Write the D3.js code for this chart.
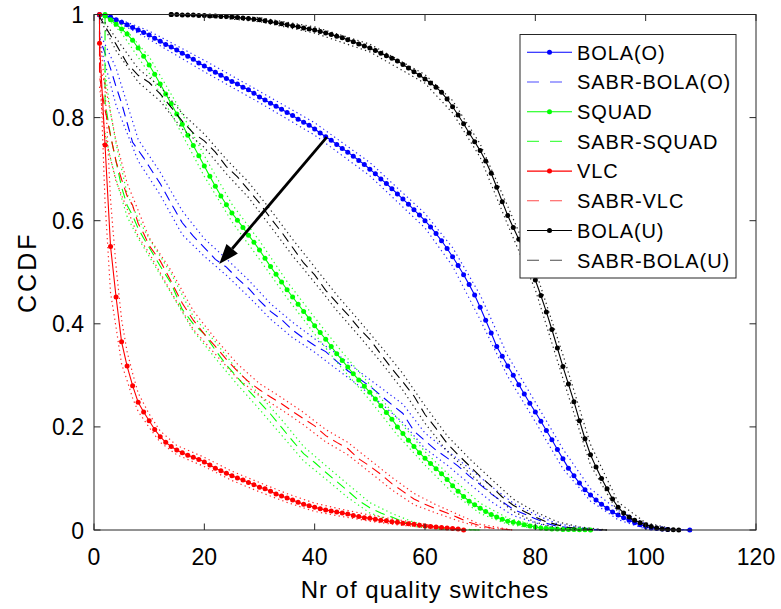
<!DOCTYPE html>
<html><head><meta charset="utf-8">
<script src="https://cdn.jsdelivr.net/npm/d3@7"></script>
<style>
body{margin:0;background:#fff}
svg{display:block}
text{font-family:"Liberation Sans",Arial,Helvetica,sans-serif;fill:#000}
</style>
</head><body>
<svg id="chart" width="781" height="609"></svg>
<script>
// ---------------- data ----------------
const xTicks = [0, 20, 40, 60, 80, 100, 120];
const yTicks = [0, 0.2, 0.4, 0.6, 0.8, 1];
const xLabel = "Nr of quality switches";
const yLabel = "CCDF";
const seriesNames = ["BOLA(O)", "SABR-BOLA(O)", "SQUAD", "SABR-SQUAD", "VLC", "SABR-VLC", "BOLA(U)", "SABR-BOLA(U)"];

// BOLA(O) (empirical CCDF: first x repeated, starting at 1)
const bolaO_x = [1].concat(d3.range(1, 105), [108]);
const bolaO_y = [1, 0.999,0.998,0.995,0.990,0.985,0.980,0.975,0.970,0.965,0.960,
0.954,0.948,0.942,0.937,0.931,0.925,0.919,0.913,0.906,0.900,
0.894,0.888,0.882,0.876,0.870,0.865,0.859,0.854,0.847,0.840,
0.834,0.828,0.822,0.816,0.810,0.804,0.797,0.791,0.785,0.778,
0.770,0.763,0.756,0.748,0.740,0.733,0.725,0.717,0.709,0.700,
0.691,0.681,0.672,0.662,0.652,0.642,0.632,0.621,0.611,0.600,
0.588,0.575,0.561,0.546,0.530,0.513,0.495,0.476,0.456,0.432,
0.407,0.382,0.356,0.337,0.318,0.300,0.282,0.264,0.246,0.229,
0.211,0.193,0.175,0.156,0.138,0.120,0.105,0.091,0.078,0.068,
0.058,0.050,0.042,0.035,0.029,0.024,0.019,0.014,0.010,0.007,
0.004,0.003,0.002,0.001, 0];
const bolaO_ciX = [1,5,10,20,30,40,50,60,65,70,75,80,85,90,95,100,104,108];
const bolaO_ciW = [0,0.004,0.008,0.011,0.011,0.012,0.013,0.014,0.018,0.024,0.020,0.019,0.019,0.012,0.009,0.005,0.002,0];

// SABR-BOLA(O)
const sabrBolaO_x = [1,1,2,3,4,5,6,7,8,9,10,12,14,16,18,20,22,24,26,28,30,32,34,36,38,40,42,44,46,48,50,52,54,56,58,60,62,64,66,68,70,72,74,76,78,80,82,84,86,88,90,92];
const sabrBolaO_y = [1,0.955,0.925,0.895,0.860,0.828,0.790,0.752,0.737,0.722,0.705,0.672,0.633,0.596,0.570,0.548,0.525,0.510,0.488,0.469,0.445,0.424,0.408,0.388,0.372,0.358,0.346,0.327,0.309,0.294,0.279,0.261,0.243,0.226,0.192,0.173,0.155,0.140,0.124,0.105,0.088,0.070,0.055,0.040,0.031,0.022,0.013,0.007,0.005,0.003,0.001,0];
const sabrBolaO_ciX = [1,4,8,12,16,20,24,28,32,36,40,44,48,52,56,60,64,68,72,76,80,84,88,92];
const sabrBolaO_ciW = [0.010,0.036,0.021,0.022,0.023,0.017,0.016,0.016,0.015,0.015,0.013,0.015,0.014,0.015,0.018,0.015,0.014,0.015,0.015,0.012,0.008,0.005,0.002,0];

// SQUAD (starting at 2)
const squad_x = [2].concat(d3.range(2, 91));
const squad_y = [1, 0.997,0.990,0.981,0.972,0.962,0.950,0.935,0.919,0.902,
0.884,0.865,0.846,0.827,0.807,0.787,0.766,0.746,0.726,0.706,
0.686,0.667,0.648,0.631,0.615,0.601,0.587,0.572,0.558,0.543,
0.527,0.511,0.496,0.481,0.466,0.452,0.438,0.424,0.410,0.396,
0.383,0.370,0.356,0.342,0.329,0.316,0.303,0.291,0.279,0.267,
0.254,0.241,0.228,0.215,0.200,0.187,0.174,0.162,0.150,0.139,
0.129,0.119,0.109,0.098,0.086,0.075,0.065,0.056,0.049,0.042,
0.036,0.030,0.025,0.021,0.017,0.015,0.013,0.010,0.008,0.006,
0.004,0.003,0.002,0.002,0.001,0.001,0.001,0.0005,0.0003,0];
const squad_ciX = [2,5,10,15,20,25,30,35,40,45,50,55,60,65,70,75,80,85,90];
const squad_ciW = [0,0.008,0.016,0.020,0.020,0.017,0.018,0.016,0.016,0.016,0.015,0.016,0.013,0.014,0.010,0.006,0.003,0.001,0];

// SABR-SQUAD
const sabrSquad_x = [2,2,3,4,5,6,7,8,9,10,12,14,16,18,20,22,24,26,28,30,32,34,36,38,40,42,44,46,48,50,52,54,56,58,60,62,64,66,68,70];
const sabrSquad_y = [1,0.830,0.765,0.715,0.665,0.630,0.610,0.585,0.566,0.548,0.512,0.478,0.428,0.400,0.380,0.349,0.320,0.296,0.271,0.248,0.225,0.199,0.173,0.148,0.131,0.112,0.094,0.076,0.057,0.043,0.033,0.025,0.016,0.011,0.007,0.004,0.002,0.001,0.0005,0];
const sabrSquad_ciX = [2,3,4,6,8,10,14,18,22,26,30,34,38,42,46,50,54,58,62,66,70];
const sabrSquad_ciW = [0.060,0.045,0.035,0.022,0.019,0.017,0.019,0.014,0.016,0.014,0.014,0.015,0.014,0.013,0.013,0.010,0.007,0.004,0.002,0.001,0];

// VLC (starting at 1)
const vlc_x = [1].concat(d3.range(1, 68));
const vlc_y = [1, 0.944,0.747,0.550,0.452,0.365,0.318,0.280,0.248,0.229,0.212,
0.195,0.181,0.170,0.162,0.155,0.150,0.145,0.141,0.137,0.132,
0.126,0.120,0.115,0.110,0.105,0.101,0.097,0.092,0.088,0.083,
0.080,0.075,0.070,0.066,0.062,0.058,0.054,0.050,0.047,0.044,
0.041,0.039,0.037,0.035,0.033,0.031,0.028,0.026,0.024,0.023,
0.021,0.019,0.018,0.016,0.015,0.013,0.012,0.011,0.009,0.008,
0.007,0.006,0.005,0.004,0.003,0.002,0];
const vlc_ciX = [1,2,3,4,5,6,7,8,10,12,15,20,25,30,35,40,45,50,55,60,67];
const vlc_ciW = [0.020,0.110,0.090,0.059,0.043,0.028,0.024,0.018,0.013,0.011,0.009,0.009,0.009,0.009,0.0085,0.008,0.007,0.006,0.005,0.003,0];

// SABR-VLC
const sabrVlc_x = [1,1,2,3,4,5,6,7,8,9,10,12,14,16,18,20,22,24,26,28,30,32,34,36,38,40,42,44,46,48,50,52,54,56,58,60,62,64,66,68,70,72,74,76];
const sabrVlc_y = [1,0.880,0.815,0.765,0.715,0.680,0.648,0.630,0.595,0.575,0.552,0.522,0.482,0.440,0.407,0.380,0.356,0.331,0.308,0.288,0.272,0.258,0.245,0.230,0.216,0.202,0.183,0.170,0.158,0.138,0.124,0.108,0.090,0.075,0.060,0.050,0.041,0.033,0.024,0.015,0.008,0.004,0.002,0];
const sabrVlc_ciX = [1,2,4,6,8,10,14,18,22,26,30,34,38,42,46,50,54,58,62,66,70,76];
const sabrVlc_ciW = [0.020,0.050,0.039,0.025,0.025,0.015,0.021,0.018,0.015,0.014,0.012,0.012,0.012,0.012,0.012,0.012,0.012,0.011,0.008,0.006,0.003,0];

// BOLA(U) (starting at 14)
const bolaU_x = [14].concat(d3.range(14, 107));
const bolaU_y = [1, 1.000,1.000,0.999,0.999,0.999,0.998,0.998,0.997,0.997,0.996,0.996,0.995,
0.994,0.993,0.992,0.991,0.990,0.988,0.986,0.984,0.982,0.980,
0.978,0.976,0.974,0.972,0.970,0.967,0.964,0.961,0.958,0.955,
0.951,0.947,0.943,0.939,0.935,0.930,0.925,0.920,0.915,0.910,
0.903,0.896,0.889,0.882,0.875,0.867,0.859,0.849,0.836,0.821,
0.805,0.788,0.770,0.753,0.736,0.716,0.692,0.665,0.637,0.610,
0.587,0.564,0.539,0.512,0.485,0.455,0.423,0.389,0.353,0.317,
0.283,0.249,0.212,0.177,0.146,0.122,0.100,0.080,0.060,0.044,
0.033,0.025,0.019,0.014,0.010,0.007,0.004,0.002,0.001,0.0005,0];
const bolaU_ciX = [14,20,30,40,50,60,65,70,75,80,85,90,95,100,106];
const bolaU_ciW = [0,0.002,0.004,0.006,0.0075,0.0085,0.012,0.013,0.018,0.019,0.023,0.020,0.010,0.004,0];

// SABR-BOLA(U)
const sabrBolaU_x = [1,1,2,4,6,8,10,12,14,16,18,20,22,24,26,28,30,32,34,36,38,40,42,44,46,48,50,52,54,56,58,60,62,64,66,68,70,72,74,76,78,80,82,84,86,88,90,93];
const sabrBolaU_y = [1,0.996,0.977,0.942,0.905,0.882,0.868,0.846,0.820,0.793,0.770,0.755,0.733,0.705,0.685,0.660,0.634,0.605,0.578,0.548,0.518,0.495,0.465,0.441,0.418,0.392,0.370,0.341,0.313,0.287,0.260,0.224,0.197,0.168,0.146,0.125,0.104,0.085,0.064,0.048,0.036,0.025,0.016,0.010,0.005,0.003,0.001,0];
const sabrBolaU_ciX = [1,4,8,12,16,20,24,28,32,36,40,44,48,52,56,60,64,68,72,76,80,84,88,93];
const sabrBolaU_ciW = [0.003,0.012,0.013,0.014,0.015,0.013,0.014,0.015,0.016,0.016,0.015,0.015,0.015,0.015,0.016,0.017,0.015,0.014,0.014,0.012,0.010,0.006,0.003,0];

// annotation arrow (data coords): from BOLA(O) towards SABR-BOLA(O)
const arrowFrom = [42.2, 0.762];
const arrowTo = [22.7, 0.516];

// ---------------- build ----------------
const pL = 94, pR = 756, pT = 14.5, pB = 530;
const x = d3.scaleLinear().domain([0, 120]).range([pL, pR]);
const y = d3.scaleLinear().domain([0, 1]).range([pB, pT]);

const series = [
  {name: seriesNames[0], color: "#0000ff", dashed: false, x: bolaO_x, y: bolaO_y, ciX: bolaO_ciX, ciW: bolaO_ciW},
  {name: seriesNames[1], color: "#0000ff", dashed: true, x: sabrBolaO_x, y: sabrBolaO_y, ciX: sabrBolaO_ciX, ciW: sabrBolaO_ciW},
  {name: seriesNames[2], color: "#00ff00", dashed: false, x: squad_x, y: squad_y, ciX: squad_ciX, ciW: squad_ciW},
  {name: seriesNames[3], color: "#00ff00", dashed: true, x: sabrSquad_x, y: sabrSquad_y, ciX: sabrSquad_ciX, ciW: sabrSquad_ciW},
  {name: seriesNames[4], color: "#ff0000", dashed: false, x: vlc_x, y: vlc_y, ciX: vlc_ciX, ciW: vlc_ciW},
  {name: seriesNames[5], color: "#ff0000", dashed: true, x: sabrVlc_x, y: sabrVlc_y, ciX: sabrVlc_ciX, ciW: sabrVlc_ciW},
  {name: seriesNames[6], color: "#000000", dashed: false, x: bolaU_x, y: bolaU_y, ciX: bolaU_ciX, ciW: bolaU_ciW},
  {name: seriesNames[7], color: "#000000", dashed: true, x: sabrBolaU_x, y: sabrBolaU_y, ciX: sabrBolaU_ciX, ciW: sabrBolaU_ciW}
];

const svg = d3.select("#chart");
svg.append("defs").append("clipPath").attr("id", "clip")
  .append("rect").attr("x", pL).attr("y", pT - 4).attr("width", pR - pL).attr("height", pB - pT + 8);

const plot = svg.append("g").attr("clip-path", "url(#clip)");
const line = d3.line().x(d => x(d[0])).y(d => y(d[1]));

series.forEach(s => {
  const pts = s.x.map((v, i) => [v, s.y[i]]);
  const lookup = new Map(pts);
  const lo = s.ciX.map((cx, i) => [cx, Math.max(0, lookup.get(cx) - s.ciW[i])]);
  const hi = s.ciX.map((cx, i) => [cx, Math.min(1, lookup.get(cx) + s.ciW[i])]);
  [lo, hi].forEach(b => {
    plot.append("path").attr("d", line(b)).attr("fill", "none")
      .attr("stroke", s.color).attr("stroke-width", 1.2).attr("stroke-dasharray", "1.3,3.2")
      .attr("opacity", 0.85);
  });
  plot.append("path").attr("d", line(pts)).attr("fill", "none")
    .attr("stroke", s.color).attr("stroke-width", s.dashed ? 1.1 : 1.1)
    .attr("stroke-dasharray", s.dashed ? "10,6" : null);
  if (!s.dashed) {
    plot.selectAll(null).data(pts).enter().append("circle")
      .attr("cx", d => x(d[0])).attr("cy", d => y(d[1])).attr("r", 2.5)
      .attr("fill", s.color);
  }
});

// arrow
{
  const x0 = x(arrowFrom[0]), y0 = y(arrowFrom[1]);
  const x1 = x(arrowTo[0]), y1 = y(arrowTo[1]);
  const ang = Math.atan2(y1 - y0, x1 - x0);
  const hl = 20, hw = 7.5;
  const bx = x1 - hl * Math.cos(ang), by = y1 - hl * Math.sin(ang);
  svg.append("line").attr("x1", x0).attr("y1", y0).attr("x2", bx).attr("y2", by)
    .attr("stroke", "#000").attr("stroke-width", 2.8);
  svg.append("path").attr("d", `M${x1},${y1}L${bx + hw * Math.sin(ang)},${by - hw * Math.cos(ang)}L${bx - hw * Math.sin(ang)},${by + hw * Math.cos(ang)}Z`)
    .attr("fill", "#000");
}

// axes box
const axCol = "#262626";
const axG = svg.append("g");
axG.append("rect").attr("x", pL).attr("y", pT).attr("width", pR - pL).attr("height", pB - pT)
  .attr("fill", "none").attr("stroke", axCol).attr("stroke-width", 1);
const tl = 6.5;
xTicks.forEach(t => {
  axG.append("line").attr("x1", x(t)).attr("x2", x(t)).attr("y1", pB).attr("y2", pB - tl).attr("stroke", axCol);
  axG.append("line").attr("x1", x(t)).attr("x2", x(t)).attr("y1", pT).attr("y2", pT + tl).attr("stroke", axCol);
  axG.append("text").attr("x", x(t)).attr("y", 565).attr("text-anchor", "middle")
    .attr("font-size", 23).text(d3.format("~g")(t));
});
yTicks.forEach(t => {
  axG.append("line").attr("y1", y(t)).attr("y2", y(t)).attr("x1", pL).attr("x2", pL + tl).attr("stroke", axCol);
  axG.append("line").attr("y1", y(t)).attr("y2", y(t)).attr("x1", pR).attr("x2", pR - tl).attr("stroke", axCol);
  axG.append("text").attr("x", pL - 10).attr("y", y(t) + 8.5).attr("text-anchor", "end")
    .attr("font-size", 23).text(d3.format("~g")(t));
});
svg.append("text").attr("x", (pL + pR) / 2).attr("y", 598).attr("text-anchor", "middle")
  .attr("font-size", 24).attr("letter-spacing", 1).text(xLabel);
svg.append("text").attr("transform", `translate(36,${(pT + pB) / 2}) rotate(-90)`)
  .attr("text-anchor", "middle").attr("font-size", 25).attr("letter-spacing", 3).text(yLabel);

// legend
const lg = svg.append("g");
lg.append("rect").attr("x", 520).attr("y", 34.5).attr("width", 216).attr("height", 243.5)
  .attr("fill", "#fff").attr("stroke", axCol).attr("stroke-width", 1);
series.forEach((s, i) => {
  const ly = 52.3 + i * 29.7;
  lg.append("line").attr("x1", 527).attr("x2", 572).attr("y1", ly).attr("y2", ly)
    .attr("stroke", s.color).attr("stroke-width", s.dashed ? 1.1 : 1.1)
    .attr("stroke-dasharray", s.dashed ? "12,11" : null).attr("opacity", s.dashed ? 0.7 : 1);
  if (!s.dashed) lg.append("circle").attr("cx", 549.5).attr("cy", ly).attr("r", 2.5).attr("fill", s.color);
  lg.append("text").attr("x", 577).attr("y", ly + 7.3).attr("font-size", 20).attr("letter-spacing", 0.9).text(s.name);
});
</script>
</body></html>
